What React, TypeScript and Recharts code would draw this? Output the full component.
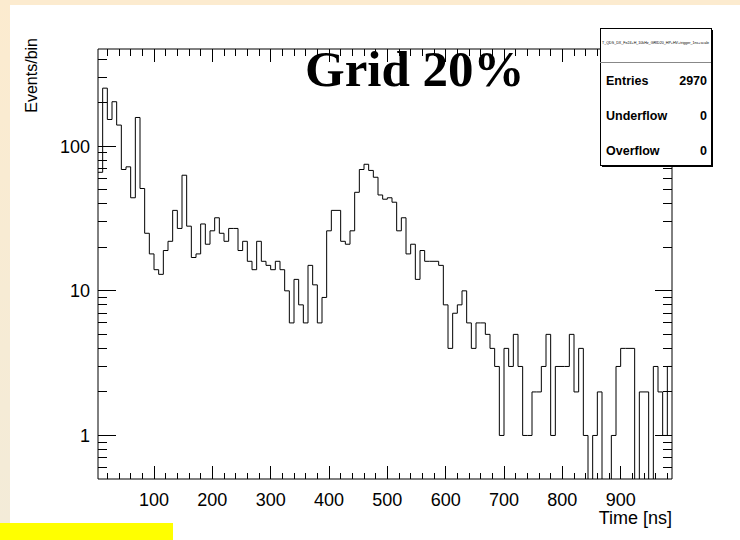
import { Line, LineChart, XAxis, YAxis } from 'recharts';

// Drift-time histogram: 8 ns bins from 4 to 988 ns
const BIN_START = 4;
const BIN_WIDTH = 8;
const eventsPerBin = [
   66, 252, 153, 203, 140, 69, 72, 44, 158, 51,
   25, 18, 14, 13, 19, 22, 36, 27, 63, 28,
   17, 18, 29, 21, 26, 32, 25, 22, 27, 27,
   19, 22, 16, 14, 22, 16, 15, 14, 16, 14,
   10, 6, 12, 8, 6, 15, 11, 6, 9, 26,
   36, 36, 22, 21, 26, 48, 69, 75, 68, 61,
   46, 43, 44, 41, 26, 32, 18, 21, 12, 19,
   16, 16, 16, 15, 8, 4, 7, 8, 10, 6,
   4, 6, 6, 5, 4, 3, 1, 4, 3, 5,
   3, 1, 1, 2, 2, 3, 5, 1, 3, 3,
   3, 5, 2, 4, 1, 0, 1, 2, 0, 0,
   1, 3, 4, 4, 4, 0, 2, 2, 0, 3,
   2, 1, 3,
];

const xDomain: [number, number] = [4, 988];
const yDomain: [number, number] = [0.5, 470];
const xLabels = [100, 200, 300, 400, 500, 600, 700, 800, 900];
const yLabels = [1, 10, 100];
const yTicks = [
   0.6, 0.7, 0.8, 0.9, 1, 2, 3, 4, 5, 6, 7, 8, 9,
   10, 20, 30, 40, 50, 60, 70, 80, 90, 100, 200, 300, 400,
];
const xTicks: number[] = [];
for (let t = 20; t < 988; t += 20) xTicks.push(t);

const statsTitle = 'T_QDS_DX_Fe24+H_10kHz_GRID20_HP+HV+trigger_1ns+scale';
const statsRows = [
   ['Entries', '2970'],
   ['Underflow', '0'],
   ['Overflow', '0'],
];

// a log axis cannot place zero, so empty bins are sent below the frame and clipped
const LOG_FLOOR = 0.2;
const points = eventsPerBin.map((n, i) => ({
   t: BIN_START + i * BIN_WIDTH,
   n: n > 0 ? n : LOG_FLOOR,
}));
points.push({ t: BIN_START + eventsPerBin.length * BIN_WIDTH, n: points[points.length - 1].n });

const SANS = '"Liberation Sans", Arial, Helvetica, sans-serif';
const X_MAJOR = 13;
const X_MINOR = 6.5;
const Y_MAJOR = 17.5;
const Y_MINOR = 9;

function BottomTick(props: any) {
   const { x, y, payload } = props;
   const major = xLabels.includes(payload.value);
   return (
      <g>
         <line x1={x} y1={y} x2={x} y2={y - (major ? X_MAJOR : X_MINOR)} stroke="#000" shapeRendering="crispEdges" />
         {major && (
            <text x={x} y={y + 27} textAnchor="middle" fontSize={18} fontFamily={SANS} fill="#000">
               {payload.value}
            </text>
         )}
      </g>
   );
}

function TopTick(props: any) {
   const { x, y, payload } = props;
   const major = xLabels.includes(payload.value);
   return <line x1={x} y1={y} x2={x} y2={y + (major ? X_MAJOR : X_MINOR)} stroke="#000" shapeRendering="crispEdges" />;
}

function LeftTick(props: any) {
   const { x, y, payload } = props;
   const major = yLabels.includes(payload.value);
   return (
      <g>
         <line x1={x} y1={y} x2={x + (major ? Y_MAJOR : Y_MINOR)} y2={y} stroke="#000" shapeRendering="crispEdges" />
         {major && (
            <text x={x - 8} y={y + 6.5} textAnchor="end" fontSize={18} fontFamily={SANS} fill="#000">
               {payload.value}
            </text>
         )}
      </g>
   );
}

function RightTick(props: any) {
   const { x, y, payload } = props;
   const major = yLabels.includes(payload.value);
   return <line x1={x} y1={y} x2={x - (major ? Y_MAJOR : Y_MINOR)} y2={y} stroke="#000" shapeRendering="crispEdges" />;
}

function StatsBox() {
   const left = 600;
   const top = 28;
   const w = 111;
   const h = 137;
   return (
      <g fontFamily={SANS}>
         <rect x={left + 2} y={top + 2} width={w} height={h} fill="#000" />
         <rect x={left} y={top} width={w} height={h} fill="#fff" stroke="#000" shapeRendering="crispEdges" />
         <text x={left + 2} y={top + 16} fontSize={4.2} textLength={w - 4} lengthAdjust="spacingAndGlyphs">
            {statsTitle}
         </text>
         <line x1={left} y1={top + 34} x2={left + w} y2={top + 34} stroke="#888" shapeRendering="crispEdges" />
         {statsRows.map(([name, value], i) => (
            <g key={name} fontSize={12.5} fontWeight="bold">
               <text x={left + 6} y={top + 57 + i * 35}>{name}</text>
               <text x={left + w - 4} y={top + 57 + i * 35} textAnchor="end">
                  {value}
               </text>
            </g>
         ))}
      </g>
   );
}

export default function App() {
   return (
      <div style={{ position: 'fixed', left: 0, top: 0, width: 740, height: 540, background: '#fff', overflow: 'hidden' }}>
         <div style={{ position: 'absolute', left: 0, top: 0, width: 740, height: 5, background: '#fcebcf' }} />
         <div
            style={{
               position: 'absolute',
               left: 0,
               top: 0,
               width: 10,
               height: 523,
               background: 'linear-gradient(#fcebcf, #f3ebd8)',
            }}
         />
         <div style={{ position: 'absolute', left: 0, top: 523, width: 173, height: 17, background: '#ffff00' }} />

         <div style={{ position: 'absolute', left: 0, top: 0 }}>
            <LineChart width={740} height={540} data={points} margin={{ top: 48, right: 67, bottom: 31, left: 38 }}>
               <XAxis
                  xAxisId="b"
                  dataKey="t"
                  type="number"
                  domain={xDomain}
                  allowDataOverflow
                  ticks={xTicks}
                  interval={0}
                  height={30}
                  tickSize={0}
                  tickMargin={0}
                  tickLine={false}
                  axisLine={{ stroke: '#000' }}
                  tick={<BottomTick />}
               />
               <XAxis
                  xAxisId="t"
                  orientation="top"
                  dataKey="t"
                  type="number"
                  domain={xDomain}
                  allowDataOverflow
                  ticks={xTicks}
                  interval={0}
                  height={1}
                  tickSize={0}
                  tickMargin={0}
                  tickLine={false}
                  axisLine={{ stroke: '#000' }}
                  tick={<TopTick />}
               />
               <YAxis
                  yAxisId="l"
                  type="number"
                  scale="log"
                  domain={yDomain}
                  allowDataOverflow
                  ticks={yTicks}
                  interval={0}
                  width={60}
                  tickSize={0}
                  tickMargin={0}
                  tickLine={false}
                  axisLine={{ stroke: '#000' }}
                  tick={<LeftTick />}
               />
               <YAxis
                  yAxisId="r"
                  orientation="right"
                  type="number"
                  scale="log"
                  domain={yDomain}
                  allowDataOverflow
                  ticks={yTicks}
                  interval={0}
                  width={1}
                  tickSize={0}
                  tickMargin={0}
                  tickLine={false}
                  axisLine={{ stroke: '#000' }}
                  tick={<RightTick />}
               />
               <Line
                  xAxisId="b"
                  yAxisId="l"
                  dataKey="n"
                  type="stepAfter"
                  stroke="#000"
                  strokeWidth={1}
                  dot={false}
                  activeDot={false}
                  isAnimationActive={false}
               />
            </LineChart>
         </div>

         <svg width={740} height={540} style={{ position: 'absolute', left: 0, top: 0, pointerEvents: 'none' }}>
            <text
               transform="translate(37, 38) rotate(-90)"
               textAnchor="end"
               fontSize={16}
               fontFamily={SANS}
               fill="#000"
            >
               Events/bin
            </text>
            <text x={672} y={524} textAnchor="end" fontSize={18} fontFamily={SANS} fill="#000">
               Time [ns]
            </text>
            <text
               x={305}
               y={86}
               fontSize={51}
               fontWeight="bold"
               fontFamily='"Liberation Serif", "Times New Roman", serif'
               fill="#000"
            >
               Grid 20%
            </text>
            <StatsBox />
         </svg>
      </div>
   );
}
